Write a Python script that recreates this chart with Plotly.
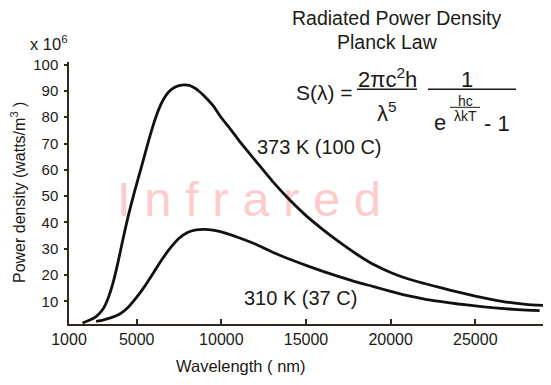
import plotly.graph_objects as go

# ---- data ----
wl_373 = [1800, 2200, 2600, 3000, 3300, 3600, 3900, 4200, 4500, 4800, 5100, 5400, 5700,
          6000, 6300, 6600, 6900, 7200, 7500, 7800, 8100, 8400, 8700, 9000, 9500, 10000,
          10500, 11000, 11500, 12000, 13000, 14000, 15000, 16000, 17000, 18000, 19000,
          20000, 21000, 22000, 23000, 24000, 25000, 26000, 27000, 28000, 29000]
pd_373 = [1.8, 2.8, 4.2, 7.0, 11.0, 17.0, 25.0, 34.0, 42.5, 50.0, 57.0, 64.0, 71.0,
          77.5, 83.0, 87.0, 89.7, 91.2, 92.0, 92.3, 92.1, 91.2, 89.8, 88.0, 84.5, 79.8,
          75.8, 71.5, 67.5, 63.6, 55.8, 48.8, 42.6, 37.3, 32.4, 27.9, 24.0,
          21.0, 18.6, 16.8, 15.1, 13.5, 12.0, 10.7, 9.6, 8.9, 8.5]

wl_310 = [2600, 3000, 3500, 4000, 4500, 5000, 5500, 6000, 6500, 7000, 7500, 8000, 8500,
          9000, 9500, 10000, 11000, 12000, 13000, 14000, 15000, 16000, 17000, 18000,
          19000, 20000, 21000, 22000, 23000, 24000, 25000, 26000, 27000, 28000, 28800]
pd_310 = [2.4, 2.9, 3.8, 5.2, 7.8, 11.6, 16.0, 21.0, 26.0, 30.4, 34.0, 36.2, 37.2,
          37.4, 37.1, 36.4, 34.3, 31.8, 28.8, 26.1, 23.7, 21.4, 19.3, 17.3,
          15.6, 13.8, 12.2, 10.9, 9.9, 9.0, 8.3, 7.6, 7.1, 6.7, 6.5]

x_ticks = [1000, 5000, 10000, 15000, 20000, 25000]
x_tick_labels = ["1000", "5000", "10000", "15000", "20000", "25000"]
y_ticks = [10, 20, 30, 40, 50, 60, 70, 80, 90, 100]
y_tick_labels = [str(v) for v in y_ticks]

label_373 = "373 K (100 C)"
label_310 = "310 K (37 C)"

# page body has an 8px default margin: size/margins compensate for it
OFF = 8
W, H = 551 - OFF, 385 - OFF
PL, PT, PW, PH = 69, 62, 474, 262          # plot area in window pixels
ML, MT = PL - OFF, PT - OFF
MR, MB = W - ML - PW, H - MT - PH


def px(x):
    return (x - PL) / PW


def py(y):
    return (PT + PH - y) / PH


FONT = "Liberation Sans, Arial, Helvetica, sans-serif"
TXT = "#1c1a16"
AX = "#2e281d"

fig = go.Figure()
fig.add_trace(go.Scatter(x=wl_373, y=pd_373, mode="lines",
                         line=dict(color="#111111", width=2.8, shape="spline", smoothing=0.5),
                         hoverinfo="skip", showlegend=False))
fig.add_trace(go.Scatter(x=wl_310, y=pd_310, mode="lines",
                         line=dict(color="#111111", width=2.8, shape="spline", smoothing=0.5),
                         hoverinfo="skip", showlegend=False))

annotations = []


def ann(text, x, y, size, xanchor="center", yanchor="middle", angle=0, color=TXT):
    annotations.append(dict(text=text, x=px(x), y=py(y), xref="paper", yref="paper",
                            xanchor=xanchor, yanchor=yanchor, showarrow=False,
                            textangle=angle, font=dict(family=FONT, size=size, color=color)))


ann("Radiated Power Density", 396.5, 17.5, 19.5)
ann("Planck Law", 387, 42, 19.5)
ann("x 10<sup>6</sup>", 28, 43, 16.5, xanchor="left")
ann("S(λ) =", 324, 92, 21)
ann("2πc<sup>2</sup>h", 387, 78, 22)
ann("λ<sup>5</sup>", 387, 112, 22)
ann("1", 467, 79, 22)
ann("e", 440, 122, 22)
ann("hc", 465, 101, 14)
ann("λkT", 465, 116, 14)
ann("- 1", 497, 123, 22)
ann(label_373, 319.5, 147, 20)
ann(label_310, 300, 298, 20)
ann("Wavelength ( nm)", 241, 365.5, 16.5)
ann("Power density (watts/m<sup>3</sup> )", 18, 193, 16, angle=-90)

shapes = []
for x0, x1, y0, w in [(357, 417, 89.3, 1.5), (428, 516, 89.3, 1.5), (450, 480, 107.3, 1.0)]:
    shapes.append(dict(type="line", xref="paper", yref="paper", x0=px(x0), x1=px(x1),
                       y0=py(y0), y1=py(y0), line=dict(color=TXT, width=w)))
# watermark below the curves
shapes.append(dict(type="rect", xref="paper", yref="paper", x0=px(100), x1=px(398),
                   y0=py(221), y1=py(166), line=dict(width=0), fillcolor="rgba(0,0,0,0)",
                   layer="below",
                   label=dict(text="I n f r a r e d", textposition="middle center",
                              font=dict(family=FONT, size=49, color="#ffcccc"))))

fig.update_layout(
    width=W, height=H,
    margin=dict(l=ML, r=MR, t=MT, b=MB, pad=0),
    paper_bgcolor="white", plot_bgcolor="white",
    showlegend=False,
    annotations=annotations,
    shapes=shapes,
    xaxis=dict(range=[1000, 29000], tickvals=x_ticks, ticktext=x_tick_labels,
               showgrid=False, zeroline=False, showline=True, linecolor=AX, linewidth=1.5,
               ticks="inside", ticklen=5, tickwidth=1.5, tickcolor=AX,
               tickfont=dict(family=FONT, size=16, color=TXT), ticklabelstandoff=0),
    yaxis=dict(range=[1.4, 101], tickvals=y_ticks, ticktext=y_tick_labels,
               showgrid=False, zeroline=False, showline=True, linecolor=AX, linewidth=1.5,
               ticks="outside", ticklen=3, tickwidth=1.5, tickcolor=AX,
               tickfont=dict(family=FONT, size=15, color=TXT), ticklabelstandoff=3),
    yaxis2=dict(range=[1.4, 101], overlaying="y", side="left", tickvals=y_ticks,
                showticklabels=False, showgrid=False, zeroline=False, showline=False,
                ticks="inside", ticklen=2.5, tickwidth=1.5, tickcolor=AX),
)

fig.write_html("out.html")
